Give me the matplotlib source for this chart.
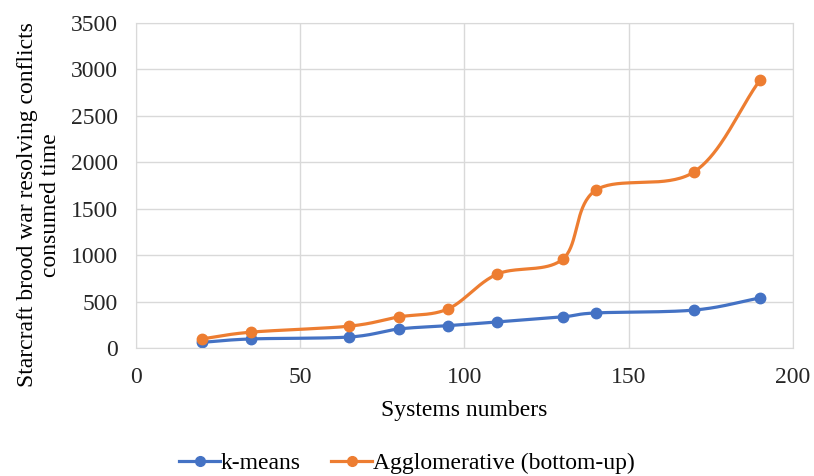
import numpy as np
import matplotlib
matplotlib.use('Agg')
from matplotlib import pyplot as plt

# systems numbers vs consumed time
systems = [20, 35, 65, 80, 95, 110, 130, 140, 170, 190]
kmeans = [60, 97, 118, 204, 240, 280, 335, 377, 408, 538]
agglomerative = [97, 170, 235, 334, 420, 795, 958, 1698, 1897, 2885]


def smooth(x, y, n=40):
    # catmull-rom curve through the points, like a spreadsheet "smoothed line"
    x = np.asarray(x, float)
    y = np.asarray(y, float)
    px = np.concatenate([[2*x[0]-x[1]], x, [2*x[-1]-x[-2]]])
    py = np.concatenate([[2*y[0]-y[1]], y, [2*y[-1]-y[-2]]])
    xs, ys = [], []
    t = np.linspace(0, 1, n)
    for i in range(1, len(px)-2):
        for arr, out in ((px, xs), (py, ys)):
            p0, p1, p2, p3 = arr[i-1], arr[i], arr[i+1], arr[i+2]
            out.extend(0.5*((2*p1) + (-p0+p2)*t + (2*p0-5*p1+4*p2-p3)*t**2
                            + (-p0+3*p1-3*p2+p3)*t**3))
    return xs, ys


plt.rcParams['font.family'] = 'Liberation Serif'
plt.rcParams['font.size'] = 17

fig = plt.figure(figsize=(8.14, 4.76), dpi=100)
ax = fig.add_axes([0.167, 0.269, 0.807, 0.683])

for ys, col, lab in ((kmeans, '#4472C4', 'k-means'),
                     (agglomerative, '#ED7D31', 'Agglomerative (bottom-up)')):
    sx, sy = smooth(systems, ys)
    ax.plot(sx, sy, color=col, lw=2.3, solid_capstyle='round')
    ax.plot(systems, ys, 'o', color=col, ms=7.5)
    ax.plot([], [], '-o', color=col, lw=2.3, ms=7, label=lab)

ax.set_xlim(0, 200)
ax.set_ylim(0, 3500)
ax.set_xticks(range(0, 201, 50))
ax.set_yticks(range(0, 3501, 500))
ax.grid(True, color='#d9d9d9', lw=1)
ax.set_axisbelow(True)
for s in ax.spines.values():
    s.set_color('#d9d9d9')
ax.tick_params(length=0, colors='#262626')
ax.tick_params(axis='y', pad=13)
ax.tick_params(axis='x', pad=14)
ax.set_xlabel('Systems numbers', labelpad=8)
ax.set_ylabel('Starcraft brood war resolving conflicts\nconsumed time', linespacing=1.15)
ax.yaxis.set_label_coords(-0.114, 0.44)

fig.legend(loc='center', bbox_to_anchor=(0.5, 0.026), ncol=2, frameon=False,
           handlelength=1.7, handletextpad=0.05, columnspacing=1.3)

fig.savefig('out.png')
